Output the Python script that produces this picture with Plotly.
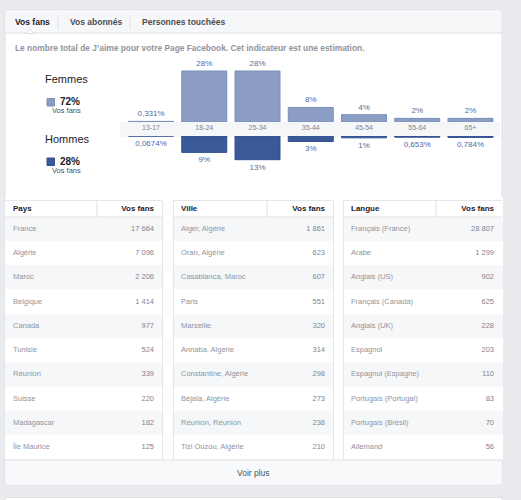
import plotly.graph_objects as go

# ---------------- data ----------------
age_groups = ["13-17", "18-24", "25-34", "35-44", "45-54", "55-64", "65+"]
femmes_pct = [0.331, 28, 28, 8, 4, 2, 2]
femmes_lbl = ["0,331%", "28%", "28%", "8%", "4%", "2%", "2%"]
hommes_pct = [0.0674, 9, 13, 3, 1, 0.653, 0.784]
hommes_lbl = ["0,0674%", "9%", "13%", "3%", "1%", "0,653%", "0,784%"]
femmes_total = "72%"
hommes_total = "28%"

pays = ["France", "Algérie", "Maroc", "Belgique", "Canada", "Tunisie", "Réunion",
        "Suisse", "Madagascar", "Île Maurice"]
pays_fans = [17664, 7096, 2206, 1414, 977, 524, 339, 220, 182, 125]
ville = ["Alger, Algérie", "Oran, Algérie", "Casablanca, Maroc", "Paris", "Marseille",
         "Annaba, Algérie", "Constantine, Algérie", "Béjaïa, Algérie",
         "Réunion, Réunion", "Tizi Ouzou, Algérie"]
ville_fans = [1861, 623, 607, 551, 320, 314, 298, 273, 238, 210]
langue = ["Français (France)", "Arabe", "Anglais (US)", "Français (Canada)",
          "Anglais (UK)", "Espagnol", "Espagnol (Espagne)", "Portugais (Portugal)",
          "Portugais (Brésil)", "Allemand"]
langue_fans = [28807, 1299, 902, 625, 228, 203, 110, 83, 70, 56]

tabs = ["Vos fans", "Vos abonnés", "Personnes touchées"]
description = "Le nombre total de J’aime pour votre Page Facebook. Cet indicateur est une estimation."

# ---------------- helpers ----------------
W, H = 521, 500
FONT = "Liberation Sans, Arial, sans-serif"
F_COL = "#8b9dc3"
M_COL = "#3b5998"
GREY_TXT = "#90949c"
DARK = "#1d2129"
BORDER = "#dddfe2"


def px(x):
    return x / W


def py(y):
    return 1 - y / H


def fmt(v):
    return f"{v:,}".replace(",", " ")


fig = go.Figure()

# ---------------- bars ----------------
fig.add_trace(go.Bar(
    x=age_groups, y=femmes_pct, text=femmes_lbl, texttemplate="%{text}",
    textposition="outside", cliponaxis=False,
    textfont=dict(size=8, color="#4f6aa6", family=FONT),
    marker=dict(color=F_COL, line=dict(color="#7b8fba", width=1)),
    xaxis="x", yaxis="y", hoverinfo="skip", showlegend=False))
fig.add_trace(go.Bar(
    x=age_groups, y=hommes_pct, text=hommes_lbl, texttemplate="%{text}",
    textposition="outside", cliponaxis=False,
    textfont=dict(size=8, color="#4f6aa6", family=FONT),
    marker=dict(color=M_COL, line=dict(color="#30508f", width=1)),
    xaxis="x2", yaxis="y2", hoverinfo="skip", showlegend=False))

scale = 51 / 28.0  # px per percent
x_dom = [px(124.4), px(497.1)]

# ---------------- tables ----------------
row_fill = ["#f6f7f9" if i % 2 == 0 else "#ffffff" for i in range(len(pays))]


def add_table(names, values, head, x0, x1, widths):
    fig.add_trace(go.Table(
        domain=dict(x=[px(x0), px(x1)], y=[py(460), py(197)]),
        columnwidth=widths,
        header=dict(values=[head, "Vos fans"],
                    align=["left", "right"], height=20,
                    font=dict(size=8, color=DARK, family=FONT, weight="bold"),
                    fill=dict(color="#ffffff"),
                    line=dict(color="#ffffff", width=1)),
        cells=dict(values=[names, [fmt(v) for v in values]],
                   align=["left", "right"], height=24.3,
                   font=dict(size=7.5, color=[GREY_TXT, "#7f8590"], family=FONT),
                   fill=dict(color=[row_fill, row_fill]),
                   line=dict(color=[row_fill, row_fill], width=1)),
    ))


tables = [(pays, pays_fans, "Pays", 5, 162, 97),
          (ville, ville_fans, "Ville", 173, 333, 267),
          (langue, langue_fans, "Langue", 343, 502, 436)]
for names, vals, head, x0, x1, xdiv in tables:
    add_table(names, vals, head, x0, x1, [xdiv - x0, x1 - xdiv])

# ---------------- shapes ----------------
shapes = [
    # card
    dict(type="rect", xref="paper", yref="paper", x0=px(5), x1=px(502), y0=py(485), y1=py(10),
         fillcolor="#ffffff", line=dict(color=BORDER, width=1), layer="below"),
    # next card peeking at bottom
    dict(type="rect", xref="paper", yref="paper", x0=px(5), x1=px(502), y0=py(510), y1=py(497.5),
         fillcolor="#ffffff", line=dict(color=BORDER, width=1), layer="below"),
    # tab bar
    dict(type="rect", xref="paper", yref="paper", x0=px(5.5), x1=px(501.5), y0=py(33), y1=py(10.5),
         fillcolor="#f6f7f9", line=dict(width=0), layer="below"),
    dict(type="line", xref="paper", yref="paper", x0=px(5), x1=px(502), y0=py(33), y1=py(33),
         line=dict(color=BORDER, width=1)),
    dict(type="line", xref="paper", yref="paper", x0=px(58), x1=px(58), y0=py(15), y1=py(29),
         line=dict(color=BORDER, width=1)),
    dict(type="line", xref="paper", yref="paper", x0=px(130), x1=px(130), y0=py(15), y1=py(29),
         line=dict(color=BORDER, width=1)),
    dict(type="path", xref="paper", yref="paper",
         path=f"M {px(26)},{py(33.5)} L {px(30)},{py(29.5)} L {px(34)},{py(33.5)} Z",
         fillcolor="#ffffff", line=dict(color=BORDER, width=1)),
    # age band
    dict(type="rect", xref="paper", yref="paper", x0=px(120), x1=px(500), y0=py(137), y1=py(122),
         fillcolor="#f5f6f7", line=dict(width=0), layer="below"),
    # legend squares
    dict(type="rect", xref="paper", yref="paper", x0=px(47), x1=px(54.5), y0=py(106), y1=py(98.5),
         fillcolor=F_COL, line=dict(color="#7b8fba", width=1)),
    dict(type="rect", xref="paper", yref="paper", x0=px(47), x1=px(54.5), y0=py(165.5), y1=py(158),
         fillcolor=M_COL, line=dict(color="#30508f", width=1)),
    # voir plus band
    dict(type="rect", xref="paper", yref="paper", x0=px(5.5), x1=px(501.5), y0=py(484.5), y1=py(460),
         fillcolor="#f8f9fa", line=dict(width=0)),
    dict(type="line", xref="paper", yref="paper", x0=px(5), x1=px(502), y0=py(460), y1=py(460),
         line=dict(color=BORDER, width=1)),
]
for names, vals, head, x0, x1, xdiv in tables:
    # header top / bottom borders and column divider
    shapes.append(dict(type="line", xref="paper", yref="paper", x0=px(x0), x1=px(x1),
                       y0=py(200.5), y1=py(200.5), line=dict(color="#e5e6e9", width=1)))
    shapes.append(dict(type="line", xref="paper", yref="paper", x0=px(x0), x1=px(x1),
                       y0=py(217), y1=py(217), line=dict(color=BORDER, width=1)))
    shapes.append(dict(type="line", xref="paper", yref="paper", x0=px(xdiv), x1=px(xdiv),
                       y0=py(201), y1=py(217), line=dict(color=BORDER, width=1)))
for xv in (162.5, 173.5, 333.5, 343.5):
    shapes.append(dict(type="line", xref="paper", yref="paper", x0=px(xv), x1=px(xv),
                       y0=py(460), y1=py(201), line=dict(color="#e5e6e9", width=1)))

# ---------------- annotations ----------------
ann = []


def text(x, y, s, size, color, bold=False, xanchor="left"):
    ann.append(dict(x=px(x), y=py(y), xref="paper", yref="paper", text=f"<b>{s}</b>" if bold else s,
                    showarrow=False, xanchor=xanchor, yanchor="middle",
                    font=dict(size=size, color=color, family=FONT)))


text(13, 21.5, tabs[0], 8.5, DARK, bold=True)
text(68, 21.5, tabs[1], 8.5, "#4b4f56", bold=True)
text(140, 21.5, tabs[2], 8.5, "#4b4f56", bold=True)
text(12.5, 48, description, 8.4, GREY_TXT, bold=True)

text(43, 79, "Femmes", 11, DARK)
text(58, 101.5, femmes_total, 10, DARK, bold=True)
text(50, 111, "Vos fans", 7.5, "#4b4f56")
text(43, 139, "Hommes", 11, DARK)
text(58, 161, hommes_total, 10, DARK, bold=True)
text(50, 170.5, "Vos fans", 7.5, "#4b4f56")

text(253, 473, "Voir plus", 8.5, "#4b4f56", xanchor="center")

fig.update_layout(
    width=W, height=H, margin=dict(l=0, r=0, t=0, b=0),
    paper_bgcolor="#e9ebee", plot_bgcolor="rgba(0,0,0,0)",
    font=dict(family=FONT),
    bargap=0.155, showlegend=False,
    xaxis=dict(domain=x_dom, anchor="y", showgrid=False, zeroline=False, showline=False,
               ticks="", tickfont=dict(size=7, color="#7f8590", family=FONT), fixedrange=True),
    yaxis=dict(domain=[py(122), py(55)], range=[0, 67 / scale], visible=False, fixedrange=True),
    xaxis2=dict(domain=x_dom, anchor="y2", matches="x", showgrid=False, zeroline=False,
                showline=False, showticklabels=False, ticks="", fixedrange=True),
    yaxis2=dict(domain=[py(180), py(136)], range=[44 / scale, 0], visible=False, fixedrange=True),
    shapes=shapes, annotations=ann,
)

fig.write_html("out.html", config=dict(displayModeBar=False),
               post_script="document.body.style.margin='0';document.body.style.overflow='hidden';")
